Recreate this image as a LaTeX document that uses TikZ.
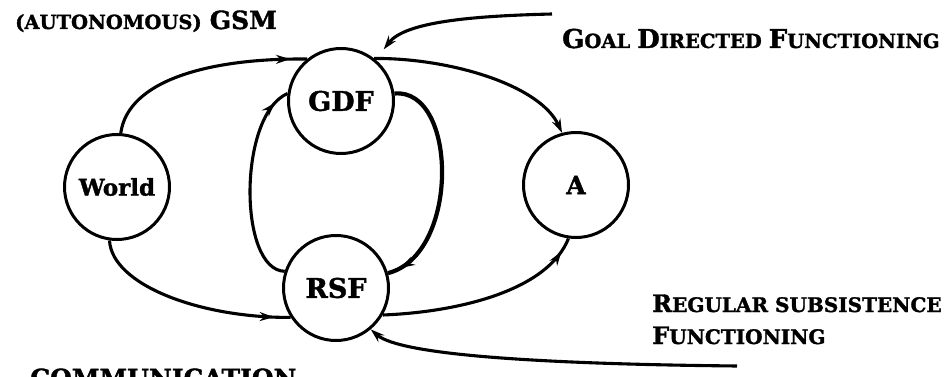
\documentclass[tikz,border=0pt]{standalone}
\usepackage{fontspec}
\setmainfont{DejaVu Serif}[BoldFeatures={FakeBold=1.5}]
\usetikzlibrary{arrows.meta,decorations.markings}
% font size shortcut and hand-made small capitals (large initial, smaller rest)
\newcommand\fsz[1]{\fontsize{#1}{#1}\selectfont}
\newcommand\capsc[4]{{\fsz{#1}#3}{\fsz{#2}#4}}

\begin{document}
\begin{tikzpicture}[x=1pt,y=-1pt,
  state/.style={circle,draw,line width=3pt,minimum size=105pt,inner sep=0pt,
                font=\bfseries\fsz{27}},
  link/.style={line width=3.1pt},
  headtip/.style={-{Stealth[length=14pt,width=9pt]}},
  tipat/.style={postaction={decorate},decoration={markings,
                mark=at position #1 with {\arrow{Stealth[length=14pt,width=9pt]}}}},
  lbl/.style={anchor=base west,inner sep=0pt,font=\bfseries}]
\useasboundingbox (0,0) rectangle (951,377);
\clip (0,0) rectangle (951,377);

% states
\node[state,font=\bfseries\fsz{23}] (world) at (117,187) {World};
\node[state] (gdf) at (341,101) {GDF};
\node[state] (rsf) at (336,288) {RSF};
\node[state,font=\bfseries\fsz{25}] (a) at (576,185) {A};

% outer ring
\draw[link,tipat=-17pt] (world.86) .. controls (128,80) and (210,58) .. (gdf.129);
\draw[link,headtip] (gdf.52) .. controls (450,58) and (540,85) .. (a.105);
\draw[link,tipat=-17pt] (world.262) .. controls (112,285) and (200,318) .. (rsf.213);
\draw[link,tipat=-15pt] (rsf.-30) .. controls (460,312) and (548,290) .. (a.-98);

% inner loop between GDF and RSF
\draw[link,tipat=-16pt] (rsf.162) .. controls (238,270) and (238,115) .. (gdf.172);
\draw[link,line width=4.2pt,tipat=-14pt] (gdf.8) .. controls (458,88) and (460,255) .. (rsf.16);

% incoming influences
\coordinate (gtail) at (552,14);
\coordinate (rtail) at (737,366);
\draw[link,headtip,shorten >=13pt] (gtail) .. controls (470,16) and (405,22) .. (gdf.50);
\draw[link,headtip] (rtail) .. controls (540,364) and (400,355) .. (rsf.-50);

% labels
\node[lbl] (gsm) at (15,29) {\fsz{19.5}(AUTONOMOUS)\hspace{8pt}\fsz{25}GSM};
\node[lbl] (gdft) at (562,48) {\capsc{26}{19.5}{G}{OAL}\hspace{7pt}\capsc{26}{19.5}{D}{IRECTED}\hspace{7pt}\capsc{26}{19.5}{F}{UNCTIONING}};
\node[lbl] (rsft) at (652,312) {\capsc{24}{20}{R}{EGULAR}\hspace{7pt}{\fsz{20}SUBSISTENCE}};
\node[lbl] (rsft2) at (652,344) {\capsc{24}{20}{F}{UNCTIONING}};
\node[lbl] (comm) at (30,387) {\fsz{25}COMMUNICATION};
\end{tikzpicture}
\end{document}
